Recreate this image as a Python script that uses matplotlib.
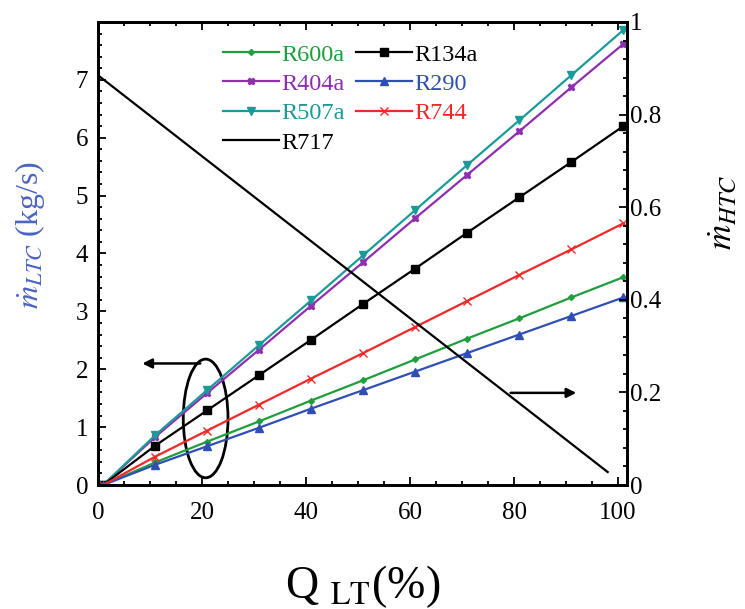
import matplotlib.pyplot as plt
from matplotlib.patches import Ellipse
from matplotlib.ticker import MultipleLocator, AutoMinorLocator

plt.rcParams['font.family'] = ['Liberation Serif', 'DejaVu Serif']
plt.rcParams['mathtext.fontset'] = 'stix'

# cooling load (%) at the marker positions
q_lt = [1, 11, 21, 31, 41, 51, 61, 71, 81, 91, 101]

# LTC mass flow rates (kg/s)
r600a = [0.0, 0.39, 0.75, 1.10, 1.46, 1.81, 2.17, 2.53, 2.88, 3.24, 3.59]
r404a = [0.0, 0.83, 1.59, 2.34, 3.10, 3.85, 4.61, 5.36, 6.11, 6.87, 7.62]
r507a = [0.0, 0.86, 1.64, 2.42, 3.19, 3.97, 4.75, 5.53, 6.30, 7.08, 7.86]
r134a = [0.0, 0.68, 1.29, 1.90, 2.51, 3.13, 3.74, 4.36, 4.97, 5.58, 6.20]
r290 = [0.0, 0.35, 0.67, 0.99, 1.32, 1.64, 1.96, 2.28, 2.60, 2.92, 3.24]
r744 = [0.0, 0.49, 0.94, 1.39, 1.84, 2.28, 2.73, 3.18, 3.63, 4.07, 4.52]

# HTC mass flow rate of R717 (right axis)
q_r717 = [0, 98]
r717 = [0.885, 0.028]

fig = plt.figure(figsize=(7.45, 6.09), dpi=100)
ax = fig.add_axes([0.1315, 0.2036, 0.71, 0.7603])
ax2 = ax.twinx()

series = [
    ("R600a", r600a, "#1f9e3c", "D", 3),
    ("R404a", r404a, "#8e2fb0", "X", 5),
    ("R507a", r507a, "#1a9a98", "v", 6),
    ("R134a", r134a, "black", "s", 6),
    ("R290", r290, "#2f4fb5", "^", 6),
    ("R744", r744, "#f02828", "x", 6),
]
handles = {}
for name, vals, col, mk, ms in series:
    h, = ax.plot(q_lt, vals, color=col, marker=mk, markersize=ms, lw=1.6, label=name)
    handles[name] = h

h717, = ax2.plot(q_r717, r717, color="black", lw=1.6, label="R717")

ax.set_xlim(0, 101.7)
ax.set_ylim(0, 8)
ax2.set_ylim(0, 1)
ax.xaxis.set_major_locator(MultipleLocator(20))
ax.xaxis.set_minor_locator(AutoMinorLocator(4))
ax.yaxis.set_minor_locator(AutoMinorLocator(5))
ax2.yaxis.set_minor_locator(AutoMinorLocator(5))
ax.set_yticks(range(0, 8))
ax2.set_yticks([0, 0.2, 0.4, 0.6, 0.8, 1.0])
ax2.set_yticklabels(["0", "0.2", "0.4", "0.6", "0.8", "1"])

ax.tick_params(which="both", direction="in", top=True, labelsize=18, width=1.3)
ax.tick_params(axis="x", pad=12)
ax.tick_params(axis="y", pad=7)
ax.tick_params(which="major", length=6)
ax.tick_params(which="minor", length=3)
ax2.tick_params(which="both", direction="in", labelsize=18, width=1.3, pad=2)
ax2.tick_params(which="major", length=6)
ax2.tick_params(which="minor", length=3)
for a in (ax, ax2):
    for s in a.spines.values():
        s.set_linewidth(2)

ax.set_xlabel(r"Q $_{\mathrm{LT}}$(%)", fontsize=33)
ax.xaxis.set_label_coords(0.5, -0.168)
ax.set_ylabel(r"$\dot{m}_{LTC}$ (kg/s)", fontsize=23, color="#4a64c4")
ax.yaxis.set_label_coords(-0.096, 0.54)
ax2.set_ylabel(r"$\dot{m}_{HTC}$", fontsize=25)
ax2.yaxis.set_label_coords(1.15, 0.59)

leg_h = [handles["R600a"], handles["R404a"], handles["R507a"], h717,
         handles["R134a"], handles["R290"], handles["R744"]]
leg_l = ["R600a", "R404a", "R507a", "R717", "R134a", "R290", "R744"]
leg = ax2.legend(leg_h, leg_l, ncol=2, loc="upper left", bbox_to_anchor=(0.205, 0.99),
                 fontsize=17.5, frameon=False, handlelength=2.3, handletextpad=0.1,
                 columnspacing=0.45, labelspacing=0.3, borderpad=0.2)
text_cols = ["#1f9e3c", "#8e2fb0", "#1a9a98", "black", "black", "#2f4fb5", "#f02828"]
for t, c in zip(leg.get_texts(), text_cols):
    t.set_color(c)

# annotations: ellipse with arrow to the left axis, arrow to the right axis
ax.add_patch(Ellipse((20.7, 1.15), 8.6, 2.05, fill=False, lw=2, color="black"))
ax.annotate("", xy=(8, 2.1), xytext=(20.2, 2.1),
            arrowprops=dict(arrowstyle="-|>", color="black", lw=1.8, mutation_scale=14))
ax2.annotate("", xy=(92.5, 0.199), xytext=(78.8, 0.199),
             arrowprops=dict(arrowstyle="-|>", color="black", lw=1.8, mutation_scale=14))

fig.savefig("out.png", dpi=100)
